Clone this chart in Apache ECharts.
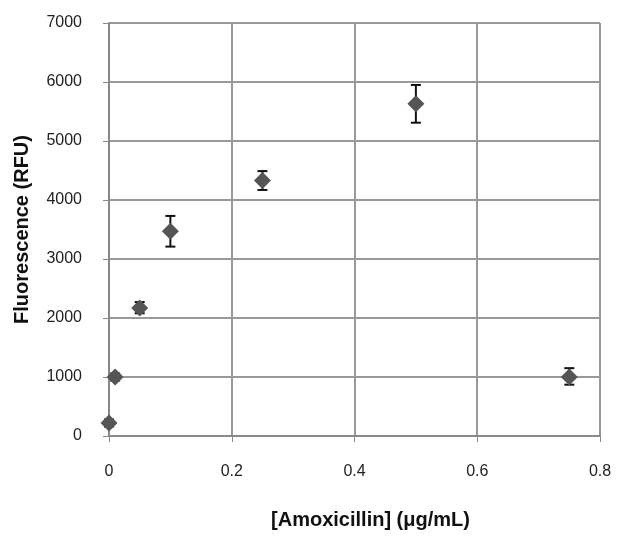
<!DOCTYPE html>
<html>
<head>
<meta charset="utf-8">
<script src="https://cdn.jsdelivr.net/npm/echarts@6/dist/echarts.min.js"></script>
<style>html,body{margin:0;padding:0;background:#fff}#c{width:623px;height:547px}</style>
</head>
<body>
<div id="c"></div>
<script>
var concentrations = [0, 0.01, 0.05, 0.1, 0.25, 0.5, 0.75];
var fluorescence = [220, 1000, 2170, 3470, 4330, 5630, 1000];
var errorLow = [160, 940, 2080, 3210, 4170, 5310, 870];
var errorHigh = [280, 1060, 2270, 3730, 4490, 5950, 1150];
var xTicks = [0, 0.2, 0.4, 0.6, 0.8];
var yTicks = [0, 1000, 2000, 3000, 4000, 5000, 6000, 7000];

var points = concentrations.map(function (x, i) { return [x, fluorescence[i]]; });
var errs = concentrations.map(function (x, i) { return [x, errorLow[i], errorHigh[i]]; });

var chart = echarts.init(document.getElementById('c'));
chart.setOption({
  animation: false,
  backgroundColor: '#fff',
  grid: { left: 109, right: 23, top: 23, bottom: 111, containLabel: false },
  xAxis: {
    type: 'value', min: xTicks[0], max: xTicks[xTicks.length - 1], interval: 0.2,
    name: '[Amoxicillin] (\u03bcg/mL)', nameLocation: 'middle', nameGap: 74,
    nameTextStyle: { fontFamily: 'Liberation Sans, Arial', fontWeight: 'bold', fontSize: 20, color: '#111',
      padding: [0, 0, 0, 32] },
    axisLine: { show: true, lineStyle: { color: '#888', width: 2 } },
    axisTick: { show: true, length: 6, lineStyle: { color: '#888', width: 1 } },
    axisLabel: { margin: 28, fontFamily: 'Liberation Sans, Arial', fontSize: 16, color: '#222',
      formatter: function (v) { return String(v); } },
    splitLine: { show: true, lineStyle: { color: '#999', width: 2 } }
  },
  yAxis: {
    type: 'value', min: yTicks[0], max: yTicks[yTicks.length - 1], interval: 1000,
    name: 'Fluorescence (RFU)', nameLocation: 'middle', nameGap: 77,
    nameTextStyle: { fontFamily: 'Liberation Sans, Arial', fontWeight: 'bold', fontSize: 20, color: '#111' },
    axisLine: { show: true, lineStyle: { color: '#888', width: 2 } },
    axisTick: { show: true, length: 6, lineStyle: { color: '#888', width: 1 } },
    axisLabel: { margin: 27, fontFamily: 'Liberation Sans, Arial', fontSize: 16, color: '#222',
      formatter: function (v) { return String(v); } },
    splitLine: { show: true, lineStyle: { color: '#999', width: 2 } }
  },
  series: [
    {
      type: 'custom',
      data: errs,
      z: 3,
      renderItem: function (params, api) {
        var x = api.value(0);
        var lo = api.coord([x, api.value(1)]);
        var hi = api.coord([x, api.value(2)]);
        var w = 5;
        var st = { stroke: '#111', lineWidth: 2 };
        return {
          type: 'group',
          children: [
            { type: 'line', shape: { x1: lo[0], y1: lo[1], x2: hi[0], y2: hi[1] }, style: st },
            { type: 'line', shape: { x1: lo[0] - w, y1: lo[1], x2: lo[0] + w, y2: lo[1] }, style: st },
            { type: 'line', shape: { x1: hi[0] - w, y1: hi[1], x2: hi[0] + w, y2: hi[1] }, style: st }
          ]
        };
      }
    },
    {
      type: 'scatter',
      data: points,
      z: 4,
      symbol: 'diamond',
      symbolSize: [17, 17],
      itemStyle: { color: '#555', opacity: 1 }
    }
  ]
});
</script>
</body>
</html>
